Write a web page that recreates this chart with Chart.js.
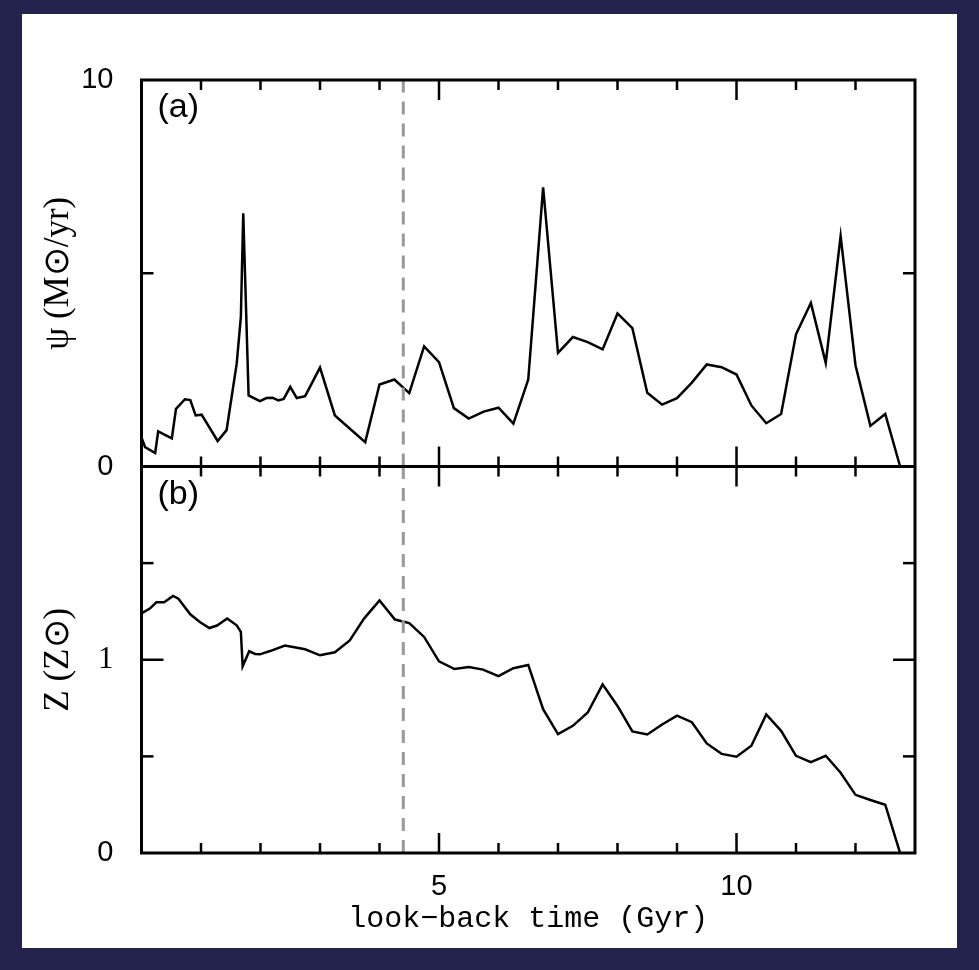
<!DOCTYPE html>
<html>
<head>
<meta charset="utf-8">
<script src="https://cdn.jsdelivr.net/npm/chart.js@4.4.0/dist/chart.umd.min.js"></script>
<style>
  html, body { margin: 0; padding: 0; background: #24234e; }
  #frame { position: absolute; left: 22px; top: 14px; width: 935px; height: 934px; background: #fff; }
  #wrap { position: absolute; left: 0; top: 0; width: 979px; height: 970px; }
</style>
</head>
<body>
<div id="frame"></div>
<div id="wrap"><canvas id="myChart"></canvas></div>
<script>
// panel (a): star formation rate, M_sun/yr
const sfrTime = [0.0, 0.06, 0.23, 0.28, 0.51, 0.58, 0.73, 0.82, 0.91, 1.01, 1.28, 1.43, 1.60, 1.67, 1.71, 1.80,
  1.99, 2.10, 2.20, 2.30, 2.39, 2.50, 2.61, 2.75, 3.00, 3.25, 3.76, 4.00, 4.25, 4.50, 4.75, 5.00, 5.25, 5.50,
  5.75, 6.00, 6.25, 6.50, 6.75, 7.00, 7.25, 7.50, 7.75, 8.00, 8.25, 8.50, 8.75, 9.00, 9.25, 9.50, 9.75, 10.00,
  10.25, 10.50, 10.75, 11.00, 11.25, 11.50, 11.75, 12.00, 12.25, 12.50, 12.75];
const sfr = [0.75, 0.5, 0.35, 0.91, 0.73, 1.49, 1.74, 1.72, 1.32, 1.34, 0.66, 0.94, 2.66, 3.87, 6.55, 1.84,
  1.69, 1.77, 1.78, 1.71, 1.75, 2.06, 1.77, 1.82, 2.56, 1.32, 0.63, 2.12, 2.25, 1.90, 3.11, 2.70, 1.51, 1.24,
  1.42, 1.52, 1.11, 2.25, 7.22, 2.94, 3.35, 3.22, 3.03, 3.96, 3.58, 1.91, 1.60, 1.77, 2.17, 2.64, 2.57, 2.38,
  1.58, 1.12, 1.36, 3.42, 4.23, 2.68, 5.96, 2.62, 1.05, 1.36, 0.0];

// panel (b): metallicity, Z_sun
const zTime = [0.0, 0.14, 0.25, 0.38, 0.53, 0.62, 0.82, 0.98, 1.14, 1.27, 1.44, 1.60, 1.67, 1.70, 1.81, 1.91,
  1.99, 2.16, 2.41, 2.75, 3.00, 3.25, 3.50, 3.74, 4.00, 4.26, 4.50, 4.75, 5.00, 5.26, 5.50, 5.74, 6.00, 6.25,
  6.50, 6.75, 7.00, 7.25, 7.50, 7.75, 8.00, 8.25, 8.50, 8.75, 9.00, 9.25, 9.50, 9.75, 10.00, 10.25, 10.50,
  10.75, 11.00, 11.25, 11.50, 11.75, 12.00, 12.25, 12.50, 12.75];
const metal = [1.24, 1.265, 1.297, 1.297, 1.33, 1.316, 1.235, 1.195, 1.164, 1.177, 1.213, 1.178, 1.144, 0.966,
  1.044, 1.03, 1.028, 1.045, 1.073, 1.054, 1.023, 1.039, 1.10, 1.213, 1.307, 1.208, 1.19, 1.118, 0.992, 0.952,
  0.963, 0.949, 0.915, 0.956, 0.973, 0.744, 0.615, 0.658, 0.727, 0.873, 0.761, 0.629, 0.613, 0.665, 0.711,
  0.677, 0.567, 0.513, 0.498, 0.555, 0.717, 0.632, 0.503, 0.470, 0.503, 0.415, 0.301, 0.274, 0.25, 0.0];

const markerTime = 4.4;           // dashed vertical line
const xLabelTicks = [5, 10];
const xMajorTicks = [5, 10];
const xMinorTicks = [1, 2, 3, 4, 6, 7, 8, 9, 11, 12];
const sfrLabelTicks = [0, 10];
const sfrMinorTicks = [5];
const zLabelTicks = [0, 1];
const zMajorTicks = [1];
const zMinorTicks = [0.5, 1.5];
const panelLabels = ['(a)', '(b)'];

const pts = (xs, ys) => xs.map((x, i) => ({ x: x, y: ys[i] }));

// frame box + inward ticks on every side, like the original plot
const frameTicks = {
  id: 'frameTicks',
  afterDatasetsDraw(chart) {
    const { ctx, chartArea: a, scales: { x, ya, yb } } = chart;
    const mid = ya.getPixelForValue(0);
    ctx.save();
    ctx.strokeStyle = '#000';
    ctx.lineCap = 'butt';
    ctx.lineWidth = 2.5;
    const seg = (x1, y1, x2, y2) => { ctx.beginPath(); ctx.moveTo(x1, y1); ctx.lineTo(x2, y2); ctx.stroke(); };

    const xt = xMinorTicks.map(v => [v, 10]).concat(xMajorTicks.map(v => [v, 20]));
    xt.forEach(([v, len]) => {
      const px = x.getPixelForValue(v);
      seg(px, a.top, px, a.top + len);
      seg(px, mid - len, px, mid + len);
      seg(px, a.bottom, px, a.bottom - len);
    });
    const yt = sfrMinorTicks.map(v => [ya.getPixelForValue(v), 12])
      .concat(zMinorTicks.map(v => [yb.getPixelForValue(v), 12]))
      .concat(zMajorTicks.map(v => [yb.getPixelForValue(v), 22]));
    yt.forEach(([py, len]) => {
      seg(a.left, py, a.left + len, py);
      seg(a.right, py, a.right - len, py);
    });

    ctx.lineWidth = 3;
    ctx.strokeRect(a.left, a.top, a.right - a.left, a.bottom - a.top);
    seg(a.left, mid, a.right, mid);

    // panel tags in the top-left corner of each panel
    ctx.fillStyle = '#000';
    ctx.textAlign = 'left';
    ctx.textBaseline = 'middle';
    ctx.font = '34px "Liberation Sans"';
    ctx.fillText(panelLabels[0], a.left + 16, a.top + 28);
    ctx.fillText(panelLabels[1], a.left + 16, mid + 28);
    ctx.restore();
  }
};

const ctx = document.getElementById('myChart');

const tickFont = { family: 'Liberation Sans', size: 29 };
const titleFont = { family: 'Liberation Serif', size: 35 };

new Chart(ctx, {
  type: 'line',
  data: {
    datasets: [
      {
        data: pts([markerTime, markerTime], [0, 10]),
        xAxisID: 'x', yAxisID: 'ya',
        borderColor: '#999999', borderWidth: 3, borderDash: [13, 9],
        pointRadius: 0, order: -1
      },
      {
        data: pts([markerTime, markerTime], [0, 2]),
        xAxisID: 'x', yAxisID: 'yb',
        borderColor: '#999999', borderWidth: 3, borderDash: [13, 9],
        pointRadius: 0, order: -1
      },
      {
        data: pts(sfrTime, sfr),
        xAxisID: 'x', yAxisID: 'ya',
        borderColor: '#000', borderWidth: 2.5, pointRadius: 0, tension: 0
      },
      {
        data: pts(zTime, metal),
        xAxisID: 'x', yAxisID: 'yb',
        borderColor: '#000', borderWidth: 2.5, pointRadius: 0, tension: 0
      }
    ]
  },
  options: {
    responsive: true,
    maintainAspectRatio: false,
    animation: false,
    layout: { padding: { top: 80, right: 64, left: 0, bottom: 0 } },
    plugins: {
      legend: { display: false },
      tooltip: { enabled: false }
    },
    scales: {
      x: {
        type: 'linear',
        min: 0, max: 13,
        grid: { display: false },
        border: { display: false },
        afterBuildTicks: s => { s.ticks = xLabelTicks.map(v => ({ value: v })); },
        afterFit: s => { s.height = 117; },
        ticks: { color: '#000', font: tickFont, padding: 9, maxRotation: 0 },
        title: {
          display: true, text: 'look\u2212back time (Gyr)', color: '#000',
          font: { family: 'Liberation Mono', size: 30 }, padding: { top: 0, bottom: 33 }
        }
      },
      yb: {
        type: 'linear',
        position: 'left',
        stack: 'panels',
        stackWeight: 1,
        min: 0, max: 2,
        grid: { display: false },
        border: { display: false },
        afterBuildTicks: s => { s.ticks = zLabelTicks.map(v => ({ value: v })); },
        afterFit: s => { s.width = 141.5; },
        ticks: {
          color: '#000', padding: 20,
          font: c => (c.tick && c.tick.value === 1) ? { family: 'Liberation Serif', size: 31 } : tickFont
        },
        title: { display: true, text: 'Z (Z\u2299)', color: '#000', font: titleFont, padding: { top: 38, bottom: 0 } }
      },
      ya: {
        type: 'linear',
        position: 'left',
        stack: 'panels',
        stackWeight: 1,
        min: 0, max: 10,
        grid: { display: false },
        border: { display: false },
        afterBuildTicks: s => { s.ticks = sfrLabelTicks.map(v => ({ value: v })); },
        afterFit: s => { s.width = 141.5; },
        ticks: { color: '#000', font: tickFont, padding: 20 },
        title: { display: true, text: '\u03C8 (M\u2299/yr)', color: '#000', font: titleFont, padding: { top: 38, bottom: 0 } }
      }
    }
  },
  plugins: [frameTicks]
});
</script>
</body>
</html>
